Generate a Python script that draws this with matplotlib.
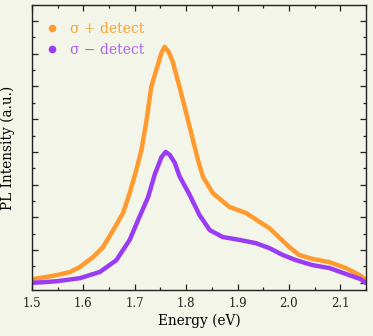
import matplotlib
matplotlib.use("Agg")
import matplotlib.pyplot as plt
from matplotlib.lines import Line2D
from matplotlib.ticker import MultipleLocator, NullFormatter

# energy axis (eV) and PL intensity (arb. units)
e_plus = [1.500, 1.525, 1.550, 1.574, 1.593, 1.619, 1.638, 1.658, 1.677, 1.690,
          1.703, 1.713, 1.723, 1.732, 1.742, 1.752, 1.758, 1.766, 1.774, 1.787,
          1.800, 1.807, 1.823, 1.833, 1.852, 1.884, 1.917, 1.943, 1.962, 1.982,
          2.001, 2.020, 2.046, 2.079, 2.111, 2.137, 2.149]
i_plus = [0.11, 0.17, 0.24, 0.33, 0.48, 0.79, 1.09, 1.61, 2.13, 2.74,
          3.45, 4.06, 4.98, 5.99, 6.51, 7.03, 7.21, 7.06, 6.75, 5.99,
          5.19, 4.76, 3.75, 3.23, 2.74, 2.32, 2.13, 1.86, 1.67, 1.37,
          1.09, 0.85, 0.73, 0.63, 0.45, 0.24, 0.11]

e_minus = [1.500, 1.525, 1.550, 1.593, 1.632, 1.664, 1.690, 1.709, 1.726, 1.739,
           1.752, 1.760, 1.768, 1.778, 1.787, 1.807, 1.826, 1.846, 1.871, 1.904,
           1.936, 1.962, 1.988, 2.014, 2.046, 2.079, 2.111, 2.140, 2.149]
i_minus = [0.00, 0.02, 0.05, 0.14, 0.33, 0.69, 1.31, 2.01, 2.62, 3.32,
           3.84, 4.00, 3.91, 3.66, 3.26, 2.68, 2.07, 1.61, 1.40, 1.31,
           1.21, 1.06, 0.85, 0.69, 0.54, 0.45, 0.27, 0.11, 0.00]

labels = ["σ + detect", "σ − detect"]
orange = "#ff9a2e"
purple = "#9b3cf5"
bg = "#f2f5e8"

plt.rcParams["font.family"] = "DejaVu Serif"

fig = plt.figure(figsize=(3.73, 3.36), dpi=100, facecolor=bg)
ax = fig.add_axes([0.086, 0.137, 0.895, 0.848], facecolor=bg)

ax.plot(e_plus, i_plus, color=orange, lw=3.2, solid_capstyle="round")
ax.plot(e_minus, i_minus, color=purple, lw=3.2, solid_capstyle="round")

ax.set_xlim(1.5, 2.15)
ax.set_ylim(-0.22, 8.49)
ax.xaxis.set_major_locator(MultipleLocator(0.1))
ax.xaxis.set_minor_locator(MultipleLocator(0.05))
ax.yaxis.set_major_locator(MultipleLocator(1))
ax.yaxis.set_minor_locator(MultipleLocator(0.5))
ax.yaxis.set_major_formatter(NullFormatter())
ax.tick_params(which="both", direction="in", top=True, right=True,
               labelsize=8.5, colors="#222222", pad=5)
ax.tick_params(which="major", length=4, width=0.9)
ax.tick_params(which="minor", length=2.5, width=0.9)
for s in ax.spines.values():
    s.set_linewidth(1.0)
    s.set_color("#222222")

ax.set_xlabel("Energy (eV)", fontsize=9.8, labelpad=3)
ax.set_ylabel("PL Intensity (a.u.)", fontsize=9.8, labelpad=7)

handles = [Line2D([], [], marker="o", ls="none", ms=4.5, color=orange),
           Line2D([], [], marker="o", ls="none", ms=4.5, color=purple)]
leg = ax.legend(handles, labels, loc="upper left", frameon=False,
                fontsize=10, handlelength=0.8, handletextpad=0.9,
                labelspacing=0.5, borderaxespad=0.4,
                bbox_to_anchor=(0.01, 0.98))
leg.get_texts()[0].set_color("#f7a23a")
leg.get_texts()[1].set_color("#ab64f2")

fig.savefig("out.png", dpi=100, facecolor=bg)
